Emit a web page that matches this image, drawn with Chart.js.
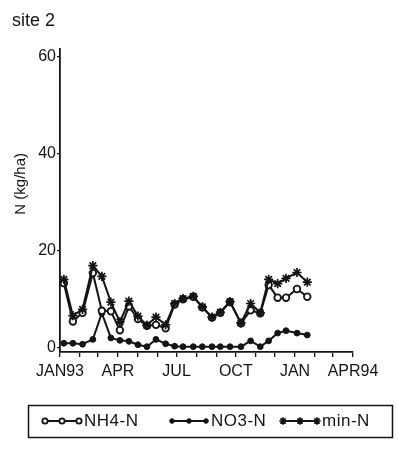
<!DOCTYPE html>
<html>
<head>
<meta charset="utf-8">
<script src="https://cdn.jsdelivr.net/npm/chart.js@4.4.1/dist/chart.umd.min.js"></script>
<style>
  html, body { margin: 0; padding: 0; background: #fff; }
</style>
</head>
<body>
<canvas id="chart" width="398" height="450"></canvas>
<script>
// ---------- data: site 2, soil mineral N (kg/ha) ----------
const sampleDates = [
  "1993-01-07", "1993-01-21", "1993-02-05", "1993-02-21", "1993-03-07",
  "1993-03-21", "1993-04-04", "1993-04-18", "1993-05-02", "1993-05-16",
  "1993-05-30", "1993-06-14", "1993-06-28", "1993-07-11", "1993-07-27",
  "1993-08-10", "1993-08-25", "1993-09-07", "1993-09-22", "1993-10-09",
  "1993-10-24", "1993-11-08", "1993-11-21", "1993-12-05", "1993-12-18",
  "1994-01-04", "1994-01-20"
];
const nh4N = [
  13.2, 5.3, 7.1, 15.3, 7.5, 7.4, 3.5, 8.4, 5.8, 4.4,
  4.6, 3.9, 8.8, 9.9, 10.4, 8.2, 6.1, 7.1, 9.3, 4.9,
  7.6, 7.0, 12.8, 10.2, 10.2, 12.0, 10.4
];
const no3N = [
  0.8, 0.8, 0.6, 1.6, 7.0, 1.9, 1.4, 1.2, 0.5, 0.1,
  1.6, 0.7, 0.2, 0.1, 0.1, 0.1, 0.1, 0.1, 0.1, 0.1,
  1.3, 0.1, 1.3, 2.9, 3.4, 2.9, 2.5
];
const minN = [
  14.0, 6.5, 7.8, 16.8, 14.6, 9.3, 5.2, 9.5, 6.4, 4.5,
  6.2, 4.6, 9.0, 10.0, 10.5, 8.3, 6.2, 7.2, 9.4, 5.0,
  9.0, 7.1, 14.0, 13.1, 14.2, 15.4, 13.4
];
// one tick per month, Jan 93 .. Apr 94
const monthLabels = [
  "JAN93", "", "", "APR", "", "", "JUL", "", "", "OCT", "", "", "JAN", "", "", "APR94"
];
const yTicks = [0, 20, 40, 60];

// ---------- helpers ----------
const DAY = 86400000;
const T0 = Date.UTC(1993, 0, 1);
function dayOf(str) {
  const [y, m, d] = str.split("-").map(Number);
  return (Date.UTC(y, m - 1, d) - T0) / DAY;
}
const monthStarts = monthLabels.map((_, i) => (Date.UTC(1993, i, 1) - T0) / DAY);

function toPoints(values) {
  return values.map((v, i) => ({ x: dayOf(sampleDates[i]), y: v }));
}

const INK = "#141414";
const FONT = "'Liberation Sans', Arial, sans-serif";

// ---------- page decorations: heading, axis title, boxed legend ----------
const decor = {
  id: "decor",
  afterDraw(chart) {
    const ctx = chart.ctx;
    const area = chart.chartArea;
    ctx.save();
    ctx.fillStyle = INK;
    ctx.strokeStyle = INK;

    // heading
    ctx.font = "18px " + FONT;
    ctx.textAlign = "left";
    ctx.textBaseline = "middle";
    ctx.fillText("site 2", 12, 21);

    // y axis title
    ctx.save();
    ctx.translate(21, area.top + (area.bottom - area.top) * 0.445);
    ctx.rotate(-Math.PI / 2);
    ctx.textAlign = "center";
    ctx.font = "15px " + FONT;
    ctx.fillText("N (kg/ha)", 0, 0);
    ctx.restore();

    // legend box
    ctx.lineWidth = 1.5;
    ctx.strokeRect(28.5, 405.5, 364, 32);

    const rowY = 421;
    const starts = [45, 172, 283];
    const gap = 17;
    ctx.font = "17px " + FONT;
    ctx.letterSpacing = "0.5px";
    chart.data.datasets.forEach((ds, i) => {
      const x0 = starts[i];
      ctx.lineWidth = ds.borderWidth;
      ctx.strokeStyle = ds.borderColor;
      ctx.beginPath();
      ctx.moveTo(x0, rowY);
      ctx.lineTo(x0 + gap * 2, rowY);
      ctx.stroke();
      for (let k = 0; k < 3; k++) {
        ctx.fillStyle = ds.pointBackgroundColor;
        ctx.strokeStyle = ds.pointBorderColor;
        ctx.lineWidth = ds.pointBorderWidth;
        Chart.helpers.drawPoint(ctx, {
          pointStyle: ds.pointStyle,
          radius: ds.pointRadius * 0.8,
          borderWidth: ds.pointBorderWidth,
          rotation: 0
        }, x0 + gap * k, rowY);
      }
      ctx.fillStyle = INK;
      ctx.fillText(ds.label, x0 + gap * 2 + 5, rowY);
    });
    ctx.restore();
  }
};

// ---------- chart ----------
const ctx = document.getElementById("chart").getContext("2d");
new Chart(ctx, {
  type: "line",
  data: {
    datasets: [
      {
        label: "NH4-N",
        data: toPoints(nh4N),
        borderColor: INK,
        borderWidth: 2,
        pointStyle: "circle",
        pointRadius: 3.3,
        pointBackgroundColor: "#fff",
        pointBorderColor: INK,
        pointBorderWidth: 1.8,
        order: 2
      },
      {
        label: "NO3-N",
        data: toPoints(no3N),
        borderColor: INK,
        borderWidth: 2,
        pointStyle: "circle",
        pointRadius: 2.9,
        pointBackgroundColor: INK,
        pointBorderColor: INK,
        pointBorderWidth: 1,
        order: 3
      },
      {
        label: "min-N",
        data: toPoints(minN),
        borderColor: INK,
        borderWidth: 2,
        pointStyle: "star",
        pointRadius: 4.6,
        pointBackgroundColor: INK,
        pointBorderColor: INK,
        pointBorderWidth: 1.7,
        order: 1
      }
    ]
  },
  options: {
    responsive: false,
    animation: false,
    layout: { padding: { top: 49, right: 45, bottom: 68, left: 0 } },
    elements: { line: { tension: 0, fill: false } },
    plugins: {
      legend: { display: false },
      tooltip: { enabled: false }
    },
    scales: {
      x: {
        type: "linear",
        min: 0,
        max: monthStarts[monthStarts.length - 1],
        afterBuildTicks: (scale) => {
          scale.ticks = monthStarts.map((v) => ({ value: v }));
        },
        afterFit: (scale) => { scale.height = 30; },
        ticks: {
          autoSkip: false,
          maxRotation: 0,
          minRotation: 0,
          padding: 5,
          color: INK,
          font: { family: FONT, size: 16 },
          callback: (value, index) => monthLabels[index]
        },
        grid: {
          drawOnChartArea: false,
          drawTicks: true,
          tickLength: 5,
          color: INK,
          lineWidth: 1.3
        },
        border: { display: true, color: INK, width: 1.8 }
      },
      y: {
        min: -1,
        max: 61.5,
        afterBuildTicks: (scale) => {
          scale.ticks = yTicks.map((v) => ({ value: v }));
        },
        afterFit: (scale) => { scale.width = 60; },
        ticks: {
          padding: 1,
          color: INK,
          font: { family: FONT, size: 16 }
        },
        grid: {
          drawOnChartArea: false,
          drawTicks: true,
          tickLength: 3,
          color: INK,
          lineWidth: 1.3
        },
        border: { display: true, color: INK, width: 1.8 }
      }
    }
  },
  plugins: [decor]
});
</script>
</body>
</html>
